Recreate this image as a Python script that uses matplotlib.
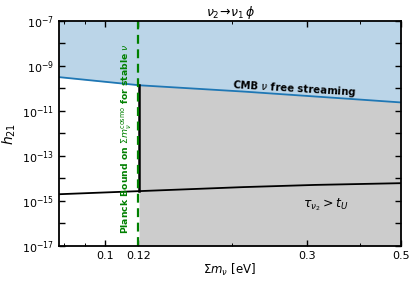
import numpy as np
import matplotlib
matplotlib.use("Agg")
import matplotlib.pyplot as plt
from matplotlib.ticker import NullFormatter

# data
m_cmb = [0.078, 0.12, 0.2, 0.3, 0.5]
h_cmb = [3.2e-10, 1.4e-10, 7.9e-11, 4.7e-11, 2.4e-11]   # CMB free streaming bound
m_life = [0.078, 0.12, 0.2, 0.3, 0.5]
h_life = [2.0e-15, 2.75e-15, 4.0e-15, 5.1e-15, 6.2e-15]  # tau_nu2 = t_U
m_planck = 0.12
m_gray = 0.1205
xticks = [0.1, 0.12, 0.3, 0.5]
xticklabels = ["0.1", "0.12", "0.3", "0.5"]

fig = plt.figure(figsize=(4.15, 2.83), dpi=100)
ax = fig.add_axes([59 / 415, 1 - 246 / 283, 342 / 415, 225 / 283])
ax.set_xscale("log")
ax.set_yscale("log")
xmin, xmax = 0.078, 0.5
ymin, ymax = 1e-17, 1e-7

# smooth in log space
mm = np.logspace(np.log10(xmin), np.log10(xmax), 200)
hc = 10 ** np.interp(np.log10(mm), np.log10(m_cmb), np.log10(h_cmb))
hl = 10 ** np.interp(np.log10(mm), np.log10(m_life), np.log10(h_life))

ax.fill_between(mm, hc, ymax, color="C0", alpha=0.3, lw=0)
sel = mm >= m_gray
mg = np.concatenate([[m_gray], mm[sel]])
hg = 10 ** np.interp(np.log10(mg), np.log10(m_cmb), np.log10(h_cmb))
ax.fill_between(mg, ymin, hg, color="k", alpha=0.2, lw=0)

ax.plot(mm, hc, color="C0", lw=1.3)
ax.plot(mm, hl, color="k", lw=1.3)
hl_g = 10 ** np.interp(np.log10(m_gray), np.log10(m_life), np.log10(h_life))
hc_g = 10 ** np.interp(np.log10(m_gray), np.log10(m_cmb), np.log10(h_cmb))
ax.plot([m_gray, m_gray], [hl_g, hc_g], color="k", lw=1.8)
ax.axvline(m_planck, color="green", ls="--", lw=1.6, dashes=(4, 2.5))

ax.text(0.1125, 6e-13, r"Planck Bound on $\Sigma m_\nu^{\rm cosmo}$ for stable $\nu$",
        rotation=90, color="green", fontsize=6.7, fontweight="bold",
        ha="center", va="center")
ax.text(0.2, 1.0e-10, r"CMB $\nu$ free streaming", rotation=-3.5,
        fontsize=7.3, fontweight="bold", ha="left", va="center")
ax.text(0.333, 6.6e-16, r"$\tau_{\nu_2} > t_U$", fontsize=9, ha="center", va="center")

ax.set_xlim(xmin, xmax)
ax.set_ylim(ymin, ymax)
ax.set_xticks(xticks)
ax.set_xticklabels(xticklabels)
ax.xaxis.set_minor_formatter(NullFormatter())
yt = [10.0 ** e for e in range(-17, -6)]
ax.set_yticks(yt)
ax.set_yticklabels([r"$10^{%d}$" % e if e % 2 else "" for e in range(-17, -6)])
ax.tick_params(which="both", direction="in", top=True, right=True, labelsize=8)
ax.tick_params(which="major", length=4, width=1)
ax.tick_params(which="minor", length=2, width=0.7)
for s in ax.spines.values():
    s.set_linewidth(1.3)

ax.set_xlabel(r"$\Sigma m_\nu$ [eV]", fontsize=8.5, labelpad=1)
ax.set_ylabel(r"$h_{21}$", fontsize=10, labelpad=3)
ax.set_title(r"$\nu_2\!\rightarrow\!\nu_1\,\phi$", fontsize=9, pad=2)

fig.savefig("out.png", dpi=100)
